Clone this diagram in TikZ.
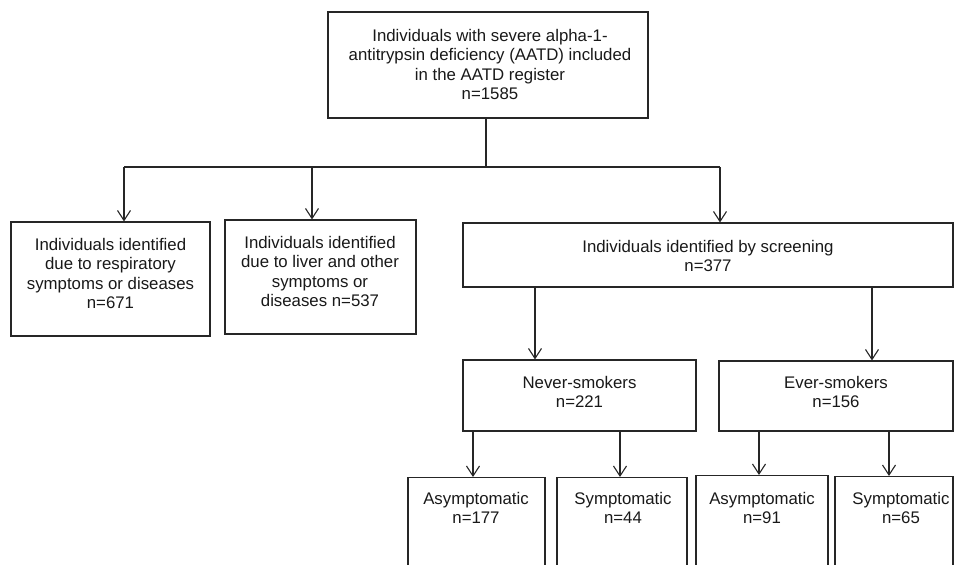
\documentclass[tikz,border=0pt]{standalone}
\usepackage{fontspec}
\setmainfont{Liberation Sans}
\usetikzlibrary{arrows.meta}
\begin{document}
\begin{tikzpicture}[x=1pt,y=-1pt,
  box/.style={draw=black!85, line width=1.1pt, rectangle, inner sep=0pt},
  txt/.style={align=center, font=\fontsize{16.8}{19.5}\selectfont, inner sep=0pt, anchor=base, text=black!90},
  arr/.style={draw=black!85, line width=1.1pt, -{Straight Barb[length=10pt,width=13pt,line width=1.1pt]}},
  ln/.style={draw=black!85, line width=1.1pt}]
\clip (0,0) rectangle (954,565);
\fill[white] (0,0) rectangle (954,565);
% boxes
\node[box, minimum width=320pt, minimum height=106pt] (top) at (488,65) {};
\node[box, minimum width=199pt, minimum height=114pt] (left) at (110.5,279) {};
\node[box, minimum width=191pt, minimum height=114pt] (mid) at (320.5,277) {};
\node[box, minimum width=490pt, minimum height=64pt] (scr) at (708,255) {};
\node[box, minimum width=233pt, minimum height=71pt] (never) at (579.5,395.5) {};
\node[box, minimum width=234pt, minimum height=70pt] (ever) at (836,396) {};
\node[box, anchor=north, minimum width=137pt, minimum height=120pt] (a1) at (476.5,477) {};
\node[box, anchor=north, minimum width=130pt, minimum height=120pt] (s1) at (622,477) {};
\node[box, anchor=north, minimum width=132pt, minimum height=120pt] (a2) at (762,475) {};
\node[box, anchor=north, minimum width=118pt, minimum height=120pt] (s2) at (894,476) {};
% texts (anchor base = baseline of the last line)
\node[txt] (ttop) at (490,99.5) {Individuals with severe alpha-1-\\antitrypsin deficiency (AATD) included\\in the AATD register\\n=1585};
\node[txt] (tleft) at (110.5,308.5) {Individuals identified\\due to respiratory\\symptoms or diseases\\n=671};
\node[txt] (tmid) at (320,306.5) {Individuals identified\\due to liver and other\\symptoms or\\diseases n=537};
\node[txt] (tscr) at (708,271.5) {Individuals identified by screening\\n=377};
\node[txt] (tnever) at (579.5,407.5) {Never-smokers\\n=221};
\node[txt] (tever) at (836,407.5) {Ever-smokers\\n=156};
\node[txt] (ta1) at (476,523.5) {Asymptomatic\\n=177};
\node[txt] (ts1) at (623,523.5) {Symptomatic\\n=44};
\node[txt] (ta2) at (762,523.5) {Asymptomatic\\n=91};
\node[txt] (ts2) at (901,523.5) {Symptomatic\\n=65};
% connectors
\coordinate (hub) at (486,167);
\coordinate (h1) at (124,167);
\coordinate (h2) at (312,167);
\coordinate (h3) at (720,167);
\draw[ln] (hub |- top.south) -- (hub);
\draw[ln] (h1) -- (h3);
\draw[arr] (h1) -- (h1 |- left.north);
\draw[arr] (h2) -- (h2 |- mid.north);
\draw[arr] (h3) -- (h3 |- scr.north);
\coordinate (sn) at (535,287);
\coordinate (se) at (872,287);
\draw[arr] (sn |- scr.south) -- (sn |- never.north);
\draw[arr] (se |- scr.south) -- (se |- ever.north);
\coordinate (n1) at (473,431);
\coordinate (n2) at (620,431);
\coordinate (e1) at (759,431);
\coordinate (e2) at (889,431);
\draw[arr] (n1 |- never.south) -- (n1 |- a1.north);
\draw[arr] (n2 |- never.south) -- (n2 |- s1.north);
\draw[arr] (e1 |- ever.south) -- (e1 |- a2.north);
\draw[arr] (e2 |- ever.south) -- (e2 |- s2.north);
\end{tikzpicture}
\end{document}
